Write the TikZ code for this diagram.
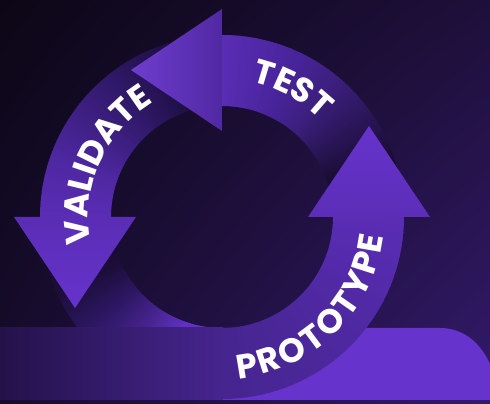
\documentclass[tikz,border=0pt]{standalone}
\usepackage{fontspec}
\setmainfont{Poppins}
\usetikzlibrary{decorations.text,shadings}
\definecolor{bgUL}{HTML}{0C0716}
\definecolor{bgUR}{HTML}{1E0F3A}
\definecolor{bgLL}{HTML}{170C2E}
\definecolor{bgLR}{HTML}{331A6B}
\definecolor{bright}{HTML}{6633CC}
\definecolor{headbase}{HTML}{5A2DB5}
\definecolor{tA}{HTML}{120926}
\definecolor{tB}{HTML}{1A0D35}
\definecolor{tC}{HTML}{2B1659}
\definecolor{tD}{HTML}{3C1F7D}
\definecolor{tE}{HTML}{48249A}
\definecolor{tF}{HTML}{5229AA}
\definecolor{vA}{HTML}{180C35}
\definecolor{vB}{HTML}{241250}
\definecolor{vC}{HTML}{31196A}
\definecolor{vD}{HTML}{3F2085}
\definecolor{vE}{HTML}{4D27A0}
\definecolor{pA}{HTML}{150A2C}
\definecolor{pB}{HTML}{1C0E3A}
\definecolor{pC}{HTML}{2D1763}
\definecolor{pD}{HTML}{46248E}
\definecolor{pE}{HTML}{6030C2}
\definecolor{pF}{HTML}{46258F}
\definecolor{pG}{HTML}{4B2799}
\definecolor{pH}{HTML}{5129A6}
\definecolor{rectL}{HTML}{24124A}
\newcommand{\lbl}{\fontsize{34}{34}\selectfont\bfseries}
% #1 start angle < #2 end angle, #3 colour at start, #4 colour at end
\newcommand{\bandpart}[4]{%
  \foreach \k in {0,...,11}{%
    \pgfmathsetmacro{\aa}{#1+(#2-#1)*\k/12}%
    \pgfmathsetmacro{\bb}{#1+(#2-#1)*(\k+1)/12+0.4}%
    \pgfmathsetmacro{\pp}{100*(\k+0.5)/12}%
    \fill[#4!\pp!#3] (\aa:111) arc[start angle=\aa, end angle=\bb, radius=111]
      -- (\bb:182) arc[start angle=\bb, end angle=\aa, radius=182] -- cycle;
  }}
\tikzset{
  cyclabel/.style={decorate, decoration={text along path, text align={fit to path}, text color=white}}
}
\begin{document}
\begin{tikzpicture}[x=1pt,y=1pt]
\useasboundingbox (0,0) rectangle (490,404);
\clip (0,0) rectangle (490,404);
% background
\shade[upper left=bgUL, upper right=bgUR, lower left=bgLL, lower right=bgLR] (0,0) rectangle (490,404);
\begin{scope}[shift={(222,187)}]
  \coordinate (C) at (0,0);
  % PROTOTYPE band tail (behind the floor)
  \bandpart{190}{205}{pA}{pB}
  \bandpart{205}{220}{pB}{pC}
  \bandpart{220}{235}{pC}{pD}
  \bandpart{235}{250}{pD}{pE}
  \bandpart{250}{270}{pE}{bright}
\end{scope}
% floor
\fill[bright] (223,4) -- (223,76) -- (440,76) .. controls (470,76) and (488,52) .. (495,26) -- (495,4) -- cycle;
\shade[left color=rectL, right color=pF] (0,4) rectangle (223,76);
\begin{scope}[shift={(222,187)}]
  % PROTOTYPE band front
  \bandpart{270}{300}{pF}{pG}
  \bandpart{300}{330}{pG}{pH}
  \bandpart{330}{360}{pH}{headbase}
  % TEST band
  \bandpart{5}{20}{tA}{tB}
  \bandpart{20}{35}{tB}{tC}
  \bandpart{35}{50}{tC}{tD}
  \bandpart{50}{65}{tD}{tE}
  \bandpart{65}{80}{tE}{tF}
  \bandpart{80}{90}{tF}{headbase}
  % VALIDATE band
  \bandpart{100}{115}{vA}{vB}
  \bandpart{115}{130}{vB}{vC}
  \bandpart{130}{145}{vC}{vD}
  \bandpart{145}{160}{vD}{vE}
  \bandpart{160}{180}{vE}{headbase}
  % heads
  \shade[left color=bright!95!white, right color=headbase!90!black] (0,86) -- (0,208) -- (-91,147) -- cycle;
  \shade[top color=headbase, bottom color=bright] (-208,0) -- (-86,0) -- (-147,-91) -- cycle;
  \shade[top color=bright, bottom color=bright!90!black] (86,0) -- (208,0) -- (147,91) -- cycle;
  % labels
  \path[cyclabel, decoration={text={|\lbl|TEST}}] (77.6:138.5) arc[start angle=77.6, end angle=44.8, radius=138.5];
  \path[cyclabel, decoration={text={|\lbl|VALIDATE}}] (191.4:133.5) arc[start angle=191.4, end angle=121.6, radius=133.5];
  \path[cyclabel, decoration={text={|\lbl|PROTOTYPE}}] (275.7:162.5) arc[start angle=275.7, end angle=353.3, radius=162.5];
\end{scope}
\end{tikzpicture}
\end{document}
